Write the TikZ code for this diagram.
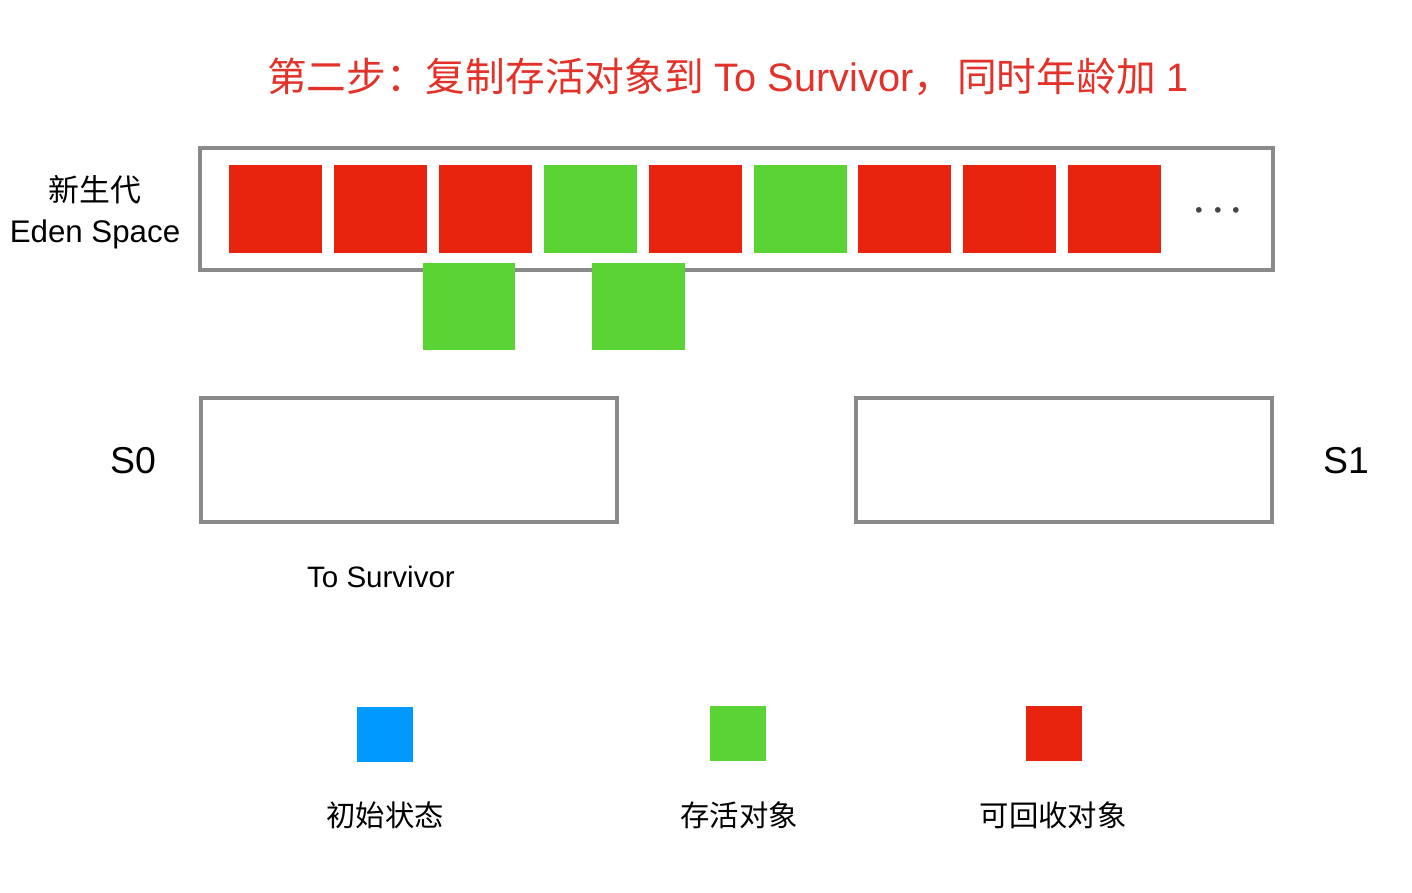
\documentclass[tikz,border=0pt]{standalone}
\usepackage{fontspec}
\setmainfont{Liberation Sans}
\newfontfamily\cjk{Noto Sans CJK SC}
\usepackage{tikz}
\usetikzlibrary{positioning}
\definecolor{objred}{HTML}{E8230E}
\definecolor{objgreen}{HTML}{5AD334}
\definecolor{objblue}{HTML}{0099FF}
\definecolor{boxgray}{HTML}{8A8A8A}
\definecolor{titlered}{HTML}{E2322A}
\definecolor{dotgray}{HTML}{444444}

\begin{document}
\begin{tikzpicture}[x=0.02cm,y=-0.02cm,
		obj/.style={inner sep=0pt,minimum width=1.86cm,minimum height=1.76cm},
		area/.style={draw=boxgray,line width=2.3pt,inner sep=0pt},
		key/.style={inner sep=0pt,minimum width=1.12cm,minimum height=1.1cm},
		lbl/.style={inner sep=0pt,font=\fontsize{16.8}{20}\selectfont}]
				\useasboundingbox (0,0) rectangle (1412,892);
				% title
				\node[text=titlered,font=\fontsize{22.6}{26}\selectfont] (title) at (728,77)
					{{\cjk 第二步：复制存活对象到} To Survivor{\cjk ，}\hspace{0.1em}{\cjk 同时年龄加} 1};
				% eden space
				\node[area,minimum width=21.46cm,minimum height=2.44cm] (eden) at (736.5,209) {};
				\node[lbl,font=\cjk\fontsize{17.6}{20}\selectfont] (edencn) at (95,190) {新生代};
				\node[lbl,font=\fontsize{17.8}{20}\selectfont,below=0.3cm of edencn] (edenen) {Eden Space};
				\foreach \i/\c in {0/objred,1/objred,2/objred,3/objgreen,4/objred,5/objgreen,6/objred,7/objred,8/objred}
					\node[obj,fill=\c] (e\i) at (275.5+104.9*\i,209) {};
				\node[text=dotgray,inner sep=0pt,font=\fontsize{21.7}{24}\selectfont\boldmath] (more) at (1218,211) {$\cdots$};
				% copied objects
				\node[obj,fill=objgreen] (c1) at (469,306.5) {};
				\node[obj,fill=objgreen] (c2) at (638,306.5) {};
				% survivor spaces
				\node[area,minimum width=8.32cm,minimum height=2.48cm] (s0) at (409,460) {};
				\node[area,minimum width=8.32cm,minimum height=2.48cm] (s1) at (1064,460) {};
				\node[inner sep=0pt,font=\fontsize{21.3}{24}\selectfont] (s0lbl) at (133,461) {S0};
				\node[inner sep=0pt,font=\fontsize{21.3}{24}\selectfont] (s1lbl) at (1346,461) {S1};
				\node[lbl] (tolbl) at (381,577) {To Survivor};
				% legend
				\node[key,fill=objblue] (k1) at (385,734.5) {};
				\node[key,fill=objgreen] (k2) at (738,733.5) {};
				\node[key,fill=objred] (k3) at (1054,733.5) {};
				\node[lbl,font=\cjk\fontsize{16.7}{20}\selectfont] (k1lbl) at (385,815) {初始状态};
				\node[lbl,font=\cjk\fontsize{16.7}{20}\selectfont] (k2lbl) at (739,815) {存活对象};
				\node[lbl,font=\cjk\fontsize{16.7}{20}\selectfont] (k3lbl) at (1053,815) {可回收对象};
\end{tikzpicture}
\end{document}
